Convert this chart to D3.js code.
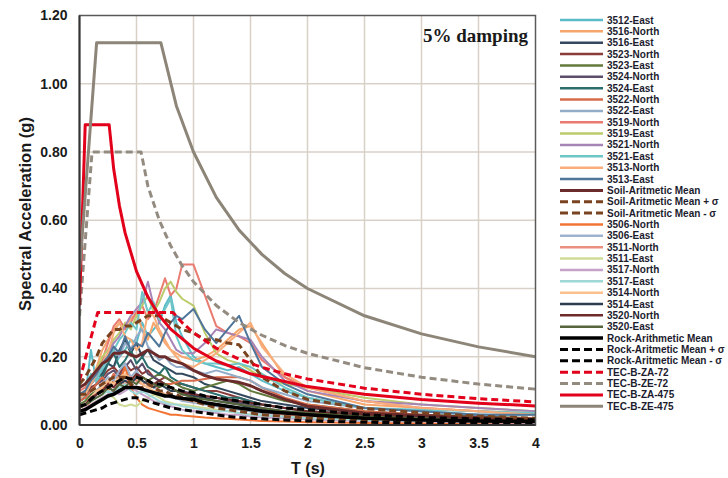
<!DOCTYPE html>
<html>
<head>
<meta charset="utf-8">
<script src="https://cdn.jsdelivr.net/npm/d3@7/dist/d3.min.js"></script>
<style>
  body { margin: 0; background: #fff; }
  svg { display: block; }
</style>
</head>
<body>
<svg id="chart" width="728" height="478"></svg>
<script>
// ---- Periods (s) at which the record spectra are sampled ----
const periods = [0, 0.05, 0.1, 0.15, 0.2, 0.25, 0.3, 0.35, 0.4, 0.45, 0.5, 0.55, 0.6, 0.65, 0.7, 0.75, 0.8, 0.85, 0.9, 1.0, 1.1, 1.2, 1.3, 1.4, 1.5, 1.6, 1.8, 2.0, 2.5, 3.0, 3.5, 4.0];

// ---- Soil-site records, spectral acceleration (g) ----
const s3512E = [.07,.08,.22,.12,.16,.18,.17,.20,.22,.25,.24,.30,.26,.28,.30,.35,.38,.30,.26,.20,.18,.17,.16,.17,.15,.13,.10,.08,.05,.04,.03,.03];
const s3516N = [.09,.10,.13,.17,.22,.25,.28,.30,.29,.31,.33,.28,.25,.30,.27,.24,.22,.21,.20,.19,.20,.22,.25,.28,.29,.24,.14,.10,.06,.05,.04,.03];
const s3516E = [.08,.09,.12,.14,.15,.18,.17,.22,.25,.21,.24,.20,.22,.19,.18,.17,.16,.15,.15,.14,.12,.11,.10,.09,.08,.07,.06,.05,.035,.025,.02,.015];
const s3523N = [.08,.09,.11,.12,.14,.16,.17,.15,.18,.16,.17,.15,.16,.14,.13,.14,.13,.12,.12,.11,.10,.10,.09,.08,.07,.06,.05,.04,.03,.02,.02,.015];
const s3523E = [.06,.07,.09,.10,.12,.11,.13,.12,.14,.13,.15,.14,.13,.14,.15,.14,.13,.12,.11,.10,.11,.12,.13,.12,.10,.09,.07,.06,.04,.03,.025,.02];
const s3524N = [.07,.08,.10,.12,.13,.15,.16,.14,.17,.19,.16,.18,.15,.14,.13,.12,.11,.10,.10,.09,.085,.08,.07,.065,.06,.05,.04,.035,.025,.02,.015,.01];
const s3524E = [.08,.09,.12,.16,.14,.18,.21,.17,.19,.22,.18,.20,.17,.16,.15,.17,.14,.13,.12,.11,.10,.09,.08,.08,.07,.06,.05,.04,.03,.02,.02,.015];
const s3522N = [.07,.08,.10,.12,.14,.12,.15,.13,.17,.14,.13,.12,.13,.12,.12,.12,.12,.125,.13,.13,.135,.14,.14,.14,.13,.11,.08,.06,.04,.03,.02,.02];
const s3522E = [.08,.09,.12,.14,.17,.19,.22,.20,.24,.22,.26,.28,.23,.21,.19,.20,.18,.17,.17,.16,.15,.16,.15,.14,.13,.11,.09,.07,.05,.04,.03,.03];
const s3519N = [.10,.11,.14,.16,.19,.24,.29,.31,.28,.30,.33,.35,.31,.33,.38,.43,.38,.40,.47,.47,.38,.29,.27,.26,.24,.19,.14,.11,.07,.05,.04,.035];
const s3519E = [.09,.10,.13,.16,.20,.22,.25,.27,.30,.28,.32,.35,.38,.33,.36,.40,.42,.39,.37,.35,.27,.21,.19,.18,.16,.14,.12,.11,.08,.06,.05,.04];
const s3521N = [.09,.10,.12,.15,.18,.21,.24,.26,.29,.32,.34,.36,.42,.35,.30,.28,.25,.22,.21,.21,.24,.28,.27,.26,.25,.20,.13,.10,.07,.06,.05,.04];
const s3521E = [.08,.09,.15,.13,.17,.19,.22,.25,.27,.30,.28,.39,.33,.36,.31,.34,.37,.26,.22,.19,.18,.18,.175,.18,.17,.15,.11,.08,.05,.045,.04,.035];
const s3513N = [.08,.09,.12,.15,.18,.21,.27,.30,.26,.25,.22,.24,.33,.32,.28,.25,.22,.20,.18,.17,.19,.21,.24,.27,.30,.23,.15,.11,.07,.05,.04,.03];
const s3513E = [.09,.10,.13,.15,.18,.20,.23,.21,.26,.22,.24,.23,.27,.25,.23,.27,.30,.32,.31,.34,.28,.24,.28,.32,.24,.17,.12,.09,.05,.04,.03,.03];
const soilMean  = [.11,.12,.14,.16,.18,.19,.21,.21,.215,.205,.20,.21,.22,.21,.20,.20,.19,.185,.18,.16,.145,.135,.13,.125,.115,.10,.075,.055,.035,.028,.022,.017];
const soilPlus  = [.12,.14,.17,.20,.24,.26,.28,.28,.29,.29,.30,.31,.32,.32,.32,.31,.30,.29,.28,.27,.25,.25,.24,.235,.19,.14,.10,.075,.048,.036,.026,.02];
const soilMinus = [.09,.09,.10,.11,.12,.13,.14,.14,.14,.12,.11,.11,.12,.11,.10,.10,.09,.09,.08,.07,.06,.05,.045,.04,.035,.03,.025,.02,.015,.01,.01,.008];

// ---- Rock-site records, spectral acceleration (g) ----
const r3506N = [.04,.05,.07,.09,.11,.10,.13,.12,.17,.11,.08,.06,.05,.045,.04,.035,.03,.03,.028,.025,.022,.02,.018,.016,.014,.012,.01,.008,.006,.005,.004,.004];
const r3506E = [.05,.06,.08,.10,.12,.14,.13,.16,.18,.14,.16,.13,.12,.11,.10,.09,.08,.08,.07,.065,.06,.055,.05,.045,.04,.035,.03,.025,.02,.015,.012,.01];
const r3511N = [.05,.06,.08,.09,.10,.11,.12,.13,.12,.14,.13,.12,.11,.12,.10,.09,.09,.08,.08,.07,.065,.06,.055,.05,.045,.04,.03,.025,.018,.014,.01,.008];
const r3511E = [.04,.05,.06,.07,.08,.09,.08,.06,.055,.06,.055,.07,.08,.09,.08,.07,.065,.06,.06,.055,.05,.045,.04,.035,.03,.028,.024,.02,.015,.012,.01,.008];
const r3517N = [.04,.05,.06,.07,.08,.09,.10,.09,.10,.11,.10,.09,.08,.07,.065,.06,.055,.05,.045,.04,.04,.035,.03,.03,.025,.022,.02,.016,.012,.01,.008,.006];
const r3517E = [.05,.06,.07,.08,.09,.10,.09,.11,.12,.10,.09,.10,.09,.08,.07,.065,.06,.06,.055,.05,.045,.04,.04,.035,.03,.028,.024,.02,.015,.012,.01,.008];
const r3514N = [.05,.06,.08,.10,.11,.13,.12,.14,.15,.13,.14,.12,.11,.10,.10,.09,.085,.08,.075,.07,.065,.06,.055,.05,.045,.04,.035,.03,.02,.015,.012,.01];
const r3514E = [.05,.06,.07,.09,.10,.11,.10,.12,.13,.12,.14,.13,.12,.11,.12,.11,.10,.10,.09,.085,.08,.07,.065,.06,.05,.045,.04,.03,.02,.015,.012,.01];
const r3520N = [.05,.06,.08,.09,.10,.12,.11,.13,.14,.13,.15,.14,.13,.12,.13,.12,.11,.10,.095,.09,.085,.08,.075,.07,.065,.06,.05,.04,.03,.02,.018,.015];
const r3520E = [.05,.06,.07,.08,.09,.11,.10,.12,.11,.13,.12,.14,.13,.12,.11,.12,.11,.10,.09,.08,.075,.07,.065,.06,.055,.05,.04,.035,.025,.02,.015,.012];
const rockMean  = [.04,.045,.055,.065,.075,.085,.09,.10,.11,.11,.11,.105,.10,.095,.09,.085,.085,.08,.078,.075,.065,.06,.055,.05,.045,.04,.035,.03,.02,.015,.012,.01];
const rockPlus  = [.055,.06,.075,.09,.10,.11,.12,.13,.14,.135,.14,.135,.13,.12,.12,.115,.11,.105,.10,.095,.085,.08,.075,.07,.065,.06,.05,.045,.03,.022,.018,.015];
const rockMinus = [.03,.035,.04,.045,.05,.06,.065,.07,.075,.08,.08,.075,.07,.065,.06,.055,.05,.048,.045,.04,.035,.03,.025,.022,.02,.018,.015,.012,.008,.006,.005,.004];

// ---- Design spectra (TEC), period / Sa pairs ----
const zaT72  = [0, 0.16, 0.82, 0.9, 1.0, 1.2, 1.4, 1.6, 1.8, 2.0, 2.5, 3.0, 3.5, 4.0];
const zaSa72 = [0.13, 0.33, 0.33, 0.30, 0.27, 0.225, 0.193, 0.169, 0.15, 0.135, 0.108, 0.09, 0.077, 0.0675];
const zeT72  = [0, 0.11, 0.54, 0.6, 0.7, 0.8, 0.9, 1.0, 1.2, 1.4, 1.6, 1.8, 2.0, 2.5, 3.0, 3.5, 4.0];
const zeSa72 = [0.32, 0.80, 0.80, 0.70, 0.60, 0.525, 0.467, 0.42, 0.35, 0.30, 0.263, 0.233, 0.21, 0.168, 0.14, 0.12, 0.105];
const zaT475  = [0, 0.05, 0.26, 0.3, 0.35, 0.4, 0.5, 0.6, 0.7, 0.8, 1.0, 1.2, 1.5, 2.0, 2.5, 3.0, 3.5, 4.0];
const zaSa475 = [0.35, 0.88, 0.88, 0.75, 0.643, 0.563, 0.45, 0.375, 0.321, 0.281, 0.225, 0.1875, 0.15, 0.1125, 0.09, 0.075, 0.064, 0.056];
const zeT475  = [0, 0.15, 0.714, 0.85, 1.0, 1.2, 1.4, 1.6, 1.8, 2.0, 2.5, 3.0, 3.5, 4.0];
const zeSa475 = [0.45, 1.12, 1.12, 0.935, 0.80, 0.667, 0.571, 0.50, 0.444, 0.40, 0.32, 0.267, 0.229, 0.20];

// ---- Legend / series names in legend order ----
const seriesNames = ["3512-East","3516-North","3516-East","3523-North","3523-East","3524-North","3524-East","3522-North","3522-East","3519-North","3519-East","3521-North","3521-East","3513-North","3513-East","Soil-Aritmetic Mean","Soil-Aritmetic Mean + σ","Soil-Aritmetic Mean - σ","3506-North","3506-East","3511-North","3511-East","3517-North","3517-East","3514-North","3514-East","3520-North","3520-East","Rock-Arithmetic Mean","Rock-Aritmetic Mean + σ","Rock-Aritmetic Mean - σ","TEC-B-ZA-72","TEC-B-ZE-72","TEC-B-ZA-475","TEC-B-ZE-475"];

const xTicks = [0, 0.5, 1, 1.5, 2, 2.5, 3, 3.5, 4];
const yTicks = [0, 0.2, 0.4, 0.6, 0.8, 1.0, 1.2];

// Series table: x values, y values
const P = periods;
const seriesData = {
  "3512-East": [P, s3512E], "3516-North": [P, s3516N], "3516-East": [P, s3516E],
  "3523-North": [P, s3523N], "3523-East": [P, s3523E], "3524-North": [P, s3524N],
  "3524-East": [P, s3524E], "3522-North": [P, s3522N], "3522-East": [P, s3522E],
  "3519-North": [P, s3519N], "3519-East": [P, s3519E], "3521-North": [P, s3521N],
  "3521-East": [P, s3521E], "3513-North": [P, s3513N], "3513-East": [P, s3513E],
  "Soil-Aritmetic Mean": [P, soilMean], "Soil-Aritmetic Mean + σ": [P, soilPlus], "Soil-Aritmetic Mean - σ": [P, soilMinus],
  "3506-North": [P, r3506N], "3506-East": [P, r3506E], "3511-North": [P, r3511N], "3511-East": [P, r3511E],
  "3517-North": [P, r3517N], "3517-East": [P, r3517E], "3514-North": [P, r3514N], "3514-East": [P, r3514E],
  "3520-North": [P, r3520N], "3520-East": [P, r3520E],
  "Rock-Arithmetic Mean": [P, rockMean], "Rock-Aritmetic Mean + σ": [P, rockPlus], "Rock-Aritmetic Mean - σ": [P, rockMinus],
  "TEC-B-ZA-72": [zaT72, zaSa72], "TEC-B-ZE-72": [zeT72, zeSa72],
  "TEC-B-ZA-475": [zaT475, zaSa475], "TEC-B-ZE-475": [zeT475, zeSa475]
};

// Line styles: colour, width, dash
const styles = {
  "3512-East": ["#5bbcc8", 2], "3516-North": ["#f7a66b", 2], "3516-East": ["#34495e", 2],
  "3523-North": ["#8c3b3b", 2], "3523-East": ["#627a3c", 2], "3524-North": ["#5b4e6b", 2],
  "3524-East": ["#2b6e6e", 2], "3522-North": ["#d76b4b", 2], "3522-East": ["#93acc7", 2],
  "3519-North": ["#e97b71", 2], "3519-East": ["#bccb6c", 2], "3521-North": ["#a784b6", 2],
  "3521-East": ["#6ec6c6", 2], "3513-North": ["#f8ad7a", 2], "3513-East": ["#4f7599", 2],
  "Soil-Aritmetic Mean": ["#6c2b2b", 3], "Soil-Aritmetic Mean + σ": ["#7a4320", 3, "7,4"], "Soil-Aritmetic Mean - σ": ["#7a4320", 3, "7,4"],
  "3506-North": ["#f27435", 2], "3506-East": ["#9db3cf", 2], "3511-North": ["#eb8f80", 2], "3511-East": ["#cfdc98", 2],
  "3517-North": ["#c5a2c8", 2], "3517-East": ["#9fd6d6", 2], "3514-North": ["#fbc08e", 2], "3514-East": ["#2c3e50", 2],
  "3520-North": ["#6e2a2a", 2], "3520-East": ["#56663a", 2],
  "Rock-Arithmetic Mean": ["#000000", 3.5], "Rock-Aritmetic Mean + σ": ["#000000", 3, "7,4"], "Rock-Aritmetic Mean - σ": ["#000000", 3, "7,4"],
  "TEC-B-ZA-72": ["#e2001a", 3, "7,4"], "TEC-B-ZE-72": ["#948b80", 3, "7,4"],
  "TEC-B-ZA-475": ["#e2001a", 3], "TEC-B-ZE-475": ["#8c8578", 3]
};

const svg = d3.select("#chart");
const x = d3.scaleLinear().domain([0, 4]).range([79.5, 535.5]);
const y = d3.scaleLinear().domain([0, 1.2]).range([425, 15.5]);

// Grid
const grid = svg.append("g").attr("stroke", "#d9d1c8").attr("stroke-width", 1.5);
grid.selectAll(".gx").data(xTicks.slice(1, -1)).join("line")
  .attr("x1", d => x(d)).attr("x2", d => x(d)).attr("y1", y(0)).attr("y2", y(1.2));
grid.selectAll(".gy").data(yTicks.slice(1, -1)).join("line")
  .attr("x1", x(0)).attr("x2", x(4)).attr("y1", d => y(d)).attr("y2", d => y(d));

// Plot lines
svg.append("clipPath").attr("id", "plotclip").append("rect")
  .attr("x", x(0)).attr("y", y(1.2)).attr("width", x(4) - x(0)).attr("height", y(0) - y(1.2));
const line = d3.line().x(d => x(d[0])).y(d => y(d[1]));
const plot = svg.append("g").attr("clip-path", "url(#plotclip)");
const drawOrder = seriesNames.filter(n => !/Mean|TEC/.test(n))
  .concat(seriesNames.filter(n => /Mean/.test(n) && !/Rock/.test(n)))
  .concat(seriesNames.filter(n => /Rock/.test(n)))
  .concat(["TEC-B-ZE-72", "TEC-B-ZA-72", "TEC-B-ZA-475", "TEC-B-ZE-475"]);
drawOrder.forEach(name => {
  const [xs, ys] = seriesData[name];
  const st = styles[name];
  plot.append("path")
    .datum(xs.map((t, i) => [t, ys[i]]))
    .attr("d", line)
    .attr("fill", "none")
    .attr("stroke", st[0])
    .attr("stroke-width", st[1])
    .attr("stroke-dasharray", st[2] || null)
    .attr("stroke-linejoin", "round");
});

// Frame
svg.append("rect").attr("x", x(0)).attr("y", y(1.2)).attr("width", x(4) - x(0)).attr("height", y(0) - y(1.2))
  .attr("fill", "none").attr("stroke", "#5a5a5a").attr("stroke-width", 1.5);
svg.append("line").attr("x1", x(0)).attr("x2", x(0)).attr("y1", y(0)).attr("y2", y(1.2)).attr("stroke", "#333").attr("stroke-width", 2);
svg.append("line").attr("x1", x(0)).attr("x2", x(4)).attr("y1", y(0)).attr("y2", y(0)).attr("stroke", "#333").attr("stroke-width", 2);

// Axes
const fontFam = "'Liberation Sans', Arial, sans-serif";
const yAxis = svg.append("g").attr("transform", `translate(${x(0)},0)`)
  .call(d3.axisLeft(y).tickValues(yTicks).tickFormat(d3.format(".2f")).tickSize(0).tickPadding(12));
const xAxis = svg.append("g").attr("transform", `translate(0,${y(0)})`)
  .call(d3.axisBottom(x).tickValues(xTicks).tickFormat(d => String(d)).tickSize(0).tickPadding(13));
[yAxis, xAxis].forEach(g => {
  g.select(".domain").remove();
  g.selectAll("text").attr("font-family", fontFam).attr("font-size", 14).attr("font-weight", "bold").attr("fill", "#1a1a1a");
});

// Axis titles
svg.append("text").attr("transform", `translate(31,214) rotate(-90)`)
  .attr("text-anchor", "middle").attr("font-family", fontFam).attr("font-size", 16.5).attr("font-weight", "bold")
  .attr("fill", "#1a1a1a").text("Spectral Acceleration (g)");
svg.append("text").attr("x", 308).attr("y", 474).attr("text-anchor", "middle")
  .attr("font-family", fontFam).attr("font-size", 16).attr("font-weight", "bold").attr("fill", "#1a1a1a").text("T (s)");

// Annotation
svg.append("text").attr("x", 528).attr("y", 42).attr("text-anchor", "end")
  .attr("font-family", "'Liberation Serif', 'DejaVu Serif', serif").attr("font-size", 19).attr("font-weight", "bold")
  .attr("fill", "#1a1a1a").text("5% damping");

// Legend
const legend = svg.append("g");
seriesNames.forEach((name, i) => {
  const ly = 20 + i * 11.36;
  const st = styles[name];
  legend.append("line").attr("x1", 560).attr("x2", 603).attr("y1", ly).attr("y2", ly)
    .attr("stroke", st[0]).attr("stroke-width", Math.max(2.5, st[1]))
    .attr("stroke-dasharray", st[2] ? "8,4" : null);
  legend.append("text").attr("x", 607).attr("y", ly).attr("dy", "0.35em")
    .attr("font-family", fontFam).attr("font-size", 10).attr("font-weight", "bold")
    .attr("fill", "#1c1c2e").text(name);
});
</script>
</body>
</html>
